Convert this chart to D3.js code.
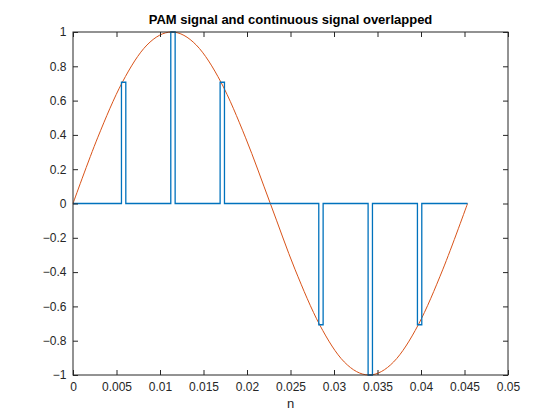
<!DOCTYPE html>
<html><head><meta charset="utf-8">
<script src="https://cdn.jsdelivr.net/npm/d3@7"></script>
<style>body{margin:0;background:#fff}svg{font-family:Arial,"Liberation Sans",sans-serif}</style>
</head><body><svg id="c" width="560" height="420"></svg>
<script>
// PAM samples (8 per period)
var sampleTimes = [0, 0.00567, 0.01134, 0.01701, 0.02268, 0.02835, 0.03402, 0.03969, 0.04535];
var sampleValues = [0, 0.707, 1, 0.707, 0, -0.707, -1, -0.707, 0];
// continuous signal read at 16 points per period
var contTimes = [0, 0.00283, 0.00567, 0.0085, 0.01134, 0.01417, 0.01701, 0.01984, 0.02268,
    0.02551, 0.02835, 0.03118, 0.03402, 0.03685, 0.03969, 0.04252, 0.04535];
var contValues = [0, 0.383, 0.707, 0.924, 1, 0.924, 0.707, 0.383, 0,
    -0.383, -0.707, -0.924, -1, -0.924, -0.707, -0.383, 0];
var xTicks = [0, 0.005, 0.01, 0.015, 0.02, 0.025, 0.03, 0.035, 0.04, 0.045, 0.05];
var yTicks = [-1, -0.8, -0.6, -0.4, -0.2, 0, 0.2, 0.4, 0.6, 0.8, 1];
var pulseLead = 0.0001, pulseWidth = 0.0005;

var svg = d3.select('#c');
var L = 73, R = 508, T = 32, B = 375;
var x = d3.scaleLinear().domain([0, 0.05]).range([L, R]);
var y = d3.scaleLinear().domain([-1, 1]).range([B, T]);

// build PAM step path
var pam = [];
sampleTimes.forEach(function(t, i) {
    var s = Math.max(0, t - pulseLead), e = t - pulseLead + pulseWidth;
    if (i === 0) { pam.push([0, sampleValues[0]]); return; }
    if (i === sampleTimes.length - 1) { pam.push([t, 0]); return; }
    pam.push([s, 0], [s, sampleValues[i]], [e, sampleValues[i]], [e, 0]);
});

var g = svg.append('g');
g.append('path').datum(contTimes.map(function(t, i) { return [t, contValues[i]]; }))
    .attr('fill', 'none').attr('stroke', '#D95319').attr('stroke-width', 1)
    .attr('d', d3.line().x(function(d) { return x(d[0]); }).y(function(d) { return y(d[1]); }).curve(d3.curveCardinal));
g.append('path').datum(pam)
    .attr('fill', 'none').attr('stroke', '#0072BD').attr('stroke-width', 1.3)
    .attr('d', d3.line().x(function(d) { return x(d[0]); }).y(function(d) { return y(d[1]); }));

svg.append('rect').attr('x', L).attr('y', T).attr('width', R - L).attr('height', B - T)
    .attr('fill', 'none').attr('stroke', '#262626').attr('stroke-width', 1);

var xa = svg.append('g').attr('transform', 'translate(0,' + B + ')')
    .call(d3.axisBottom(x).tickValues(xTicks).tickSize(-5).tickFormat(d3.format('')));
var xt = svg.append('g').attr('transform', 'translate(0,' + T + ')')
    .call(d3.axisTop(x).tickValues(xTicks).tickSize(-5).tickFormat(''));
var ya = svg.append('g').attr('transform', 'translate(' + L + ',0)')
    .call(d3.axisLeft(y).tickValues(yTicks).tickSize(-5).tickFormat(d3.format('')));
var yr = svg.append('g').attr('transform', 'translate(' + R + ',0)')
    .call(d3.axisRight(y).tickValues(yTicks).tickSize(-5).tickFormat(''));
[xa, xt, ya, yr].forEach(function(a) {
    a.select('.domain').remove();
    a.selectAll('line').attr('stroke', '#262626');
    a.selectAll('text').attr('fill', '#262626').attr('font-size', 12);
});
xa.selectAll('text').attr('dy', '1.1em');
ya.selectAll('text').attr('dx', '-0.3em');

svg.append('text').attr('x', (L + R) / 2).attr('y', 408).attr('text-anchor', 'middle')
    .attr('font-size', 13).attr('fill', '#262626').text('n');
svg.append('text').attr('x', (L + R) / 2).attr('y', 24).attr('text-anchor', 'middle')
    .attr('font-size', 13).attr('font-weight', 'bold').attr('fill', '#000')
    .text('PAM signal and continuous signal overlapped');
</script></body></html>
